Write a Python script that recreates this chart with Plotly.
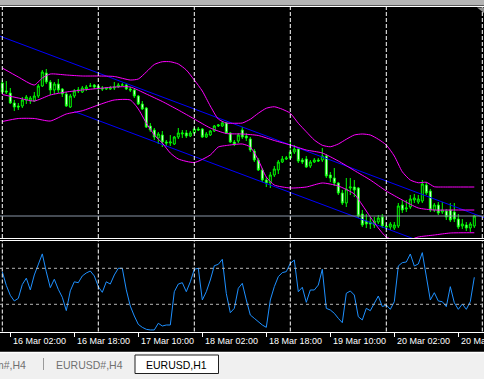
import plotly.graph_objects as go
import pandas as pd

W, H = 484, 379

# ---------------- data ----------------
times = pd.date_range("2020-03-16 00:00", periods=119, freq="h")
bars = list(range(len(times)))

open_ = [1.1228, 1.1196, 1.1188, 1.1148, 1.1136, 1.1136, 1.1160, 1.1156, 1.1156, 1.1176,
         1.1216, 1.1268, 1.1232, 1.1200, 1.1224, 1.1204, 1.1184, 1.1132, 1.1176, 1.1196,
         1.1192, 1.1204, 1.1216, 1.1220, 1.1216, 1.1208, 1.1204, 1.1204, 1.1208, 1.1212,
         1.1220, 1.1220, 1.1204, 1.1200, 1.1176, 1.1144, 1.1128, 1.1056, 1.1040, 1.1008,
         1.1020, 1.0992, 1.0988, 1.0984, 1.1012, 1.1024, 1.1028, 1.1016, 1.1028, 1.1044,
         1.1044, 1.1012, 1.1020, 1.1036, 1.1056, 1.1056, 1.1068, 1.1028, 1.0992, 1.0996,
         1.1040, 1.1016, 1.1004, 1.0956, 1.0920, 1.0880, 1.0840, 1.0828, 1.0860, 1.0880,
         1.0912, 1.0924, 1.0928, 1.0952, 1.0964, 1.0920, 1.0924, 1.0896, 1.0912, 1.0920,
         1.0920, 1.0936, 1.0860, 1.0848, 1.0828, 1.0788, 1.0748, 1.0808, 1.0812, 1.0808,
         1.0704, 1.0676, 1.0672, 1.0660, 1.0672, 1.0692, 1.0656, 1.0652, 1.0648, 1.0656,
         1.0740, 1.0724, 1.0732, 1.0760, 1.0752, 1.0756, 1.0820, 1.0796, 1.0720, 1.0740,
         1.0712, 1.0716, 1.0720, 1.0712, 1.0684, 1.0656, 1.0660, 1.0648, 1.0656]
high = [1.1240, 1.1236, 1.1208, 1.1160, 1.1148, 1.1172, 1.1180, 1.1176, 1.1192, 1.1224,
        1.1280, 1.1284, 1.1240, 1.1232, 1.1244, 1.1208, 1.1192, 1.1184, 1.1204, 1.1212,
        1.1216, 1.1220, 1.1228, 1.1224, 1.1220, 1.1216, 1.1212, 1.1216, 1.1232, 1.1228,
        1.1228, 1.1224, 1.1212, 1.1204, 1.1180, 1.1156, 1.1132, 1.1068, 1.1048, 1.1032,
        1.1036, 1.1000, 1.1020, 1.1016, 1.1048, 1.1040, 1.1040, 1.1036, 1.1052, 1.1052,
        1.1048, 1.1032, 1.1040, 1.1060, 1.1064, 1.1076, 1.1072, 1.1032, 1.1000, 1.1028,
        1.1052, 1.1028, 1.1012, 1.0964, 1.0928, 1.0888, 1.0852, 1.0872, 1.0896, 1.0920,
        1.0936, 1.0936, 1.1000, 1.0980, 1.0968, 1.0928, 1.0936, 1.0920, 1.0928, 1.0928,
        1.0968, 1.0944, 1.0872, 1.0888, 1.0832, 1.0800, 1.0848, 1.0848, 1.0840, 1.0812,
        1.0720, 1.0704, 1.0692, 1.0692, 1.0700, 1.0704, 1.0668, 1.0672, 1.0672, 1.0748,
        1.0760, 1.0760, 1.0780, 1.0784, 1.0780, 1.0840, 1.0832, 1.0804, 1.0748, 1.0752,
        1.0752, 1.0724, 1.0748, 1.0748, 1.0704, 1.0684, 1.0672, 1.0672, 1.0700]
low = [1.1184, 1.1184, 1.1144, 1.1116, 1.1120, 1.1128, 1.1144, 1.1144, 1.1152, 1.1168,
       1.1212, 1.1224, 1.1180, 1.1184, 1.1188, 1.1172, 1.1132, 1.1128, 1.1168, 1.1188,
       1.1188, 1.1196, 1.1212, 1.1204, 1.1200, 1.1196, 1.1200, 1.1200, 1.1200, 1.1208,
       1.1216, 1.1200, 1.1192, 1.1168, 1.1140, 1.1120, 1.1048, 1.1032, 1.1000, 1.0984,
       1.0972, 1.0976, 1.0976, 1.0980, 1.1004, 1.1008, 1.1008, 1.1012, 1.1024, 1.1036,
       1.1008, 1.1008, 1.1016, 1.1032, 1.1052, 1.1052, 1.1024, 1.0988, 1.0976, 1.0988,
       1.1004, 1.0996, 1.0952, 1.0912, 1.0876, 1.0832, 1.0812, 1.0808, 1.0852, 1.0864,
       1.0908, 1.0920, 1.0924, 1.0944, 1.0908, 1.0904, 1.0888, 1.0888, 1.0908, 1.0912,
       1.0912, 1.0848, 1.0832, 1.0816, 1.0780, 1.0740, 1.0732, 1.0780, 1.0772, 1.0688,
       1.0652, 1.0648, 1.0644, 1.0648, 1.0664, 1.0648, 1.0644, 1.0640, 1.0640, 1.0648,
       1.0708, 1.0712, 1.0724, 1.0748, 1.0744, 1.0748, 1.0780, 1.0712, 1.0712, 1.0700,
       1.0704, 1.0680, 1.0672, 1.0672, 1.0644, 1.0644, 1.0636, 1.0632, 1.0648]
close = [1.1192, 1.1192, 1.1148, 1.1132, 1.1132, 1.1160, 1.1172, 1.1168, 1.1176, 1.1216,
         1.1272, 1.1232, 1.1200, 1.1224, 1.1200, 1.1184, 1.1136, 1.1176, 1.1196, 1.1200,
         1.1208, 1.1212, 1.1216, 1.1212, 1.1208, 1.1204, 1.1208, 1.1208, 1.1212, 1.1220,
         1.1220, 1.1204, 1.1200, 1.1176, 1.1144, 1.1124, 1.1052, 1.1040, 1.1012, 1.1024,
         1.0992, 1.0988, 1.0992, 1.1012, 1.1028, 1.1028, 1.1016, 1.1028, 1.1044, 1.1040,
         1.1012, 1.1024, 1.1036, 1.1056, 1.1060, 1.1068, 1.1028, 1.0992, 1.0984, 1.1020,
         1.1012, 1.1008, 1.0960, 1.0920, 1.0880, 1.0840, 1.0828, 1.0860, 1.0884, 1.0912,
         1.0924, 1.0928, 1.0952, 1.0964, 1.0916, 1.0912, 1.0892, 1.0912, 1.0920, 1.0916,
         1.0936, 1.0856, 1.0848, 1.0828, 1.0788, 1.0748, 1.0804, 1.0812, 1.0800, 1.0696,
         1.0660, 1.0664, 1.0664, 1.0676, 1.0688, 1.0656, 1.0652, 1.0664, 1.0660, 1.0736,
         1.0720, 1.0728, 1.0764, 1.0768, 1.0764, 1.0824, 1.0788, 1.0720, 1.0740, 1.0708,
         1.0720, 1.0692, 1.0680, 1.0684, 1.0652, 1.0664, 1.0648, 1.0664, 1.0696]

# oscillator (0-100) in the lower window
osc = [66, 51, 40, 33.7, 36.6, 52, 59, 46, 62.6, 75.5,
       86, 66, 48.5, 57.8, 46.6, 37.8, 23, 45, 55, 54,
       61.5, 64.8, 67, 61.5, 49.6, 43.3, 55, 52.5, 62.6, 70,
       70, 46, 28, 17, 7.7, 4.4, 2.2, 1.5, 1.5, 8.9,
       5.9, 7, 7, 44, 52.5, 54, 44, 55, 68.9, 70,
       34.8, 44, 57, 72.9, 74.4, 80, 42, 20.7, 25.5, 47.8,
       53.3, 34.8, 18.1, 14.4, 10.7, 7, 4.4, 34.8, 49.6, 60.7,
       65.2, 66.3, 75.5, 79.2, 44, 48.9, 32.2, 45.9, 45.9, 51.4,
       68.9, 25.5, 23.7, 20, 14.4, 9.6, 42.2, 44.8, 40.3, 16.2,
       12.6, 25.5, 22.9, 31.1, 39.2, 27.4, 29.2, 24.4, 32.9, 72.6,
       76.3, 77, 85.9, 72.6, 74.8, 87.4, 62.6, 34.8, 42.9, 33.7,
       32.9, 27.4, 49.6, 31.8, 24.4, 30.3, 24.4, 32.9, 60]
osc_levels = [30, 70]

# Bollinger-type envelope (read at sampled bars)
upper_x = [0, 4, 8, 10, 12, 16, 20, 24, 28, 32, 34, 36, 38, 40, 42, 44, 46, 48, 50, 52,
           54, 56, 58, 60, 62, 64, 66, 68, 70, 72, 74, 76, 78, 80, 82, 84, 86, 88, 90, 92,
           94, 96, 98, 100, 102, 104, 106, 108, 110, 114, 118]
upper = [1.1288, 1.1252, 1.1220, 1.1248, 1.1264, 1.1260, 1.1256, 1.1256, 1.1254, 1.1240,
         1.1244, 1.1272, 1.1302, 1.1313, 1.1313, 1.1304, 1.1280, 1.1240, 1.1196, 1.1136,
         1.1084, 1.1068, 1.1067, 1.1068, 1.1083, 1.1107, 1.1127, 1.1133, 1.1123, 1.1107,
         1.1067, 1.1033, 1.1000, 1.0979, 1.0973, 1.0984, 1.1003, 1.1020, 1.1024, 1.1020,
         1.1003, 1.0980, 1.0936, 1.0873, 1.0840, 1.0829, 1.0831, 1.0813, 1.0812, 1.0812,
         1.0812]
middle_x = [0, 4, 8, 12, 16, 20, 24, 28, 32, 36, 40, 44, 48, 52, 56, 60, 64, 68, 72, 76,
            80, 84, 88, 92, 96, 100, 104, 108, 112, 118]
middle = [1.1182, 1.1168, 1.1156, 1.1180, 1.1192, 1.1200, 1.1206, 1.1212, 1.1212, 1.1184,
          1.1154, 1.1120, 1.1084, 1.1048, 1.1026, 1.1024, 1.1018, 1.0998, 1.0980, 1.0960,
          1.0948, 1.0916, 1.0878, 1.0840, 1.0796, 1.0760, 1.0728, 1.0720, 1.0720, 1.0720]
lower_x = [0, 4, 8, 12, 16, 20, 24, 28, 32, 34, 36, 38, 40, 42, 44, 48, 52, 54, 56, 60,
           62, 64, 66, 68, 72, 76, 80, 84, 88, 90, 92, 94, 96, 100, 104, 108, 112, 116, 118]
lower = [1.1074, 1.1086, 1.1086, 1.1076, 1.1104, 1.1117, 1.1140, 1.1160, 1.1160, 1.1124,
         1.1068, 1.1020, 1.0988, 1.0948, 1.0924, 1.0910, 1.0940, 1.0972, 1.0978, 1.0984,
         1.0972, 1.0920, 1.0852, 1.0820, 1.0808, 1.0812, 1.0828, 1.0816, 1.0784, 1.0740,
         1.0692, 1.0648, 1.0612, 1.0592, 1.0612, 1.0620, 1.0628, 1.0629, 1.0629]

# channel (two parallel trend lines, anchor bar / price)
chan_up_x = [-1, 121]
chan_up = [1.1418, 1.0686]
chan_lo_x = [18, 121]
chan_lo = [1.1114, 1.0496]

tick_labels = ["16 Mar 02:00", "16 Mar 18:00", "17 Mar 10:00", "18 Mar 02:00",
               "18 Mar 18:00", "19 Mar 10:00", "20 Mar 02:00", "20 Mar 18:00"]
tabs = ["m#,H4", "EURUSD#,H4", "EURUSD,H1"]

# ---------------- derived positions ----------------
label_of = {t.strftime("%d %b %H:%M"): i for i, t in enumerate(times)}
tick_bars = [label_of[s] for s in tick_labels]
grid_bars = [i for i in range(0, len(times) + 2)
             if (times[0] + pd.Timedelta(hours=i)).hour == 0]

def py(px):
    return 1 - px / H

def pxx(px):
    return px / W

x_range = [-0.575, 120.425]
price_range = [1.0608, 1.1534]
osc_range = [-0.22, 100.33]
main_dom = [py(238), py(6.5)]
osc_dom = [py(331.5), py(241)]

GREEN = "#00FF00"
fig = go.Figure()

fig.add_trace(go.Scatter(x=chan_up_x, y=chan_up, mode="lines",
                         line=dict(color="#0000FF", width=1), xaxis="x", yaxis="y",
                         hoverinfo="skip"))
fig.add_trace(go.Scatter(x=chan_lo_x, y=chan_lo, mode="lines",
                         line=dict(color="#0000FF", width=1), xaxis="x", yaxis="y",
                         hoverinfo="skip"))
for bx, by in ((upper_x, upper), (middle_x, middle), (lower_x, lower)):
    fig.add_trace(go.Scatter(x=bx, y=by, mode="lines",
                             line=dict(color="#FF00FF", width=1, shape="spline", smoothing=0.6),
                             xaxis="x", yaxis="y", hoverinfo="skip"))

fig.add_trace(go.Candlestick(
    x=bars, open=open_, high=high, low=low, close=close,
    increasing=dict(line=dict(color=GREEN, width=1), fillcolor="black"),
    decreasing=dict(line=dict(color=GREEN, width=1), fillcolor="white"),
    whiskerwidth=0, xaxis="x", yaxis="y"))

fig.add_trace(go.Scatter(x=bars, y=osc, mode="lines",
                         line=dict(color="#1E90FF", width=1), xaxis="x2", yaxis="y2"))

shapes = []
# top window strip
shapes.append(dict(type="rect", xref="paper", yref="paper", x0=0, x1=1, y0=py(5.5), y1=1,
                   fillcolor="#b4b4b4", line=dict(width=0), layer="below"))
# vertical dashed grid in both windows
for g in grid_bars:
    for dom in (main_dom, osc_dom):
        shapes.append(dict(type="line", xref="x", yref="paper", x0=g, x1=g,
                           y0=dom[0], y1=dom[1],
                           line=dict(color="white", width=1, dash="4px,2px")))
# oscillator levels
for lv in osc_levels:
    shapes.append(dict(type="line", xref="paper", yref="y2", x0=0, x1=1, y0=lv, y1=lv,
                       line=dict(color="#B4B4B4", width=1, dash="3px,3px")))
# bid line
shapes.append(dict(type="line", xref="paper", yref="y", x0=0, x1=1,
                   y0=close[-1], y1=close[-1], line=dict(color="#8995A6", width=1)))
# chart shift marker
shapes.append(dict(type="path", xref="paper", yref="paper",
                   path=f"M {pxx(477)} {py(7.5)} L {pxx(484)} {py(7.5)} L {pxx(484)} {py(13)} Z",
                   fillcolor="#909090", line=dict(width=0)))
# tab bar
shapes.append(dict(type="rect", xref="paper", yref="paper", x0=0, x1=1, y0=0, y1=py(352),
                   fillcolor="#F0F0F0", line=dict(width=0)))
shapes.append(dict(type="line", xref="paper", yref="paper", x0=0, x1=1, y0=py(352.5), y1=py(352.5),
                   line=dict(color="white", width=1.5)))
shapes.append(dict(type="rect", xref="paper", yref="paper", x0=pxx(135), x1=pxx(218.5),
                   y0=py(373.5), y1=py(355), fillcolor="white", line=dict(color="#202020", width=1)))
shapes.append(dict(type="line", xref="paper", yref="paper", x0=pxx(43.5), x1=pxx(43.5),
                   y0=py(370), y1=py(358), line=dict(color="#9a9a9a", width=1)))

annotations = []
for b, s in zip(tick_bars, tick_labels):
    annotations.append(dict(x=b, y=py(341), xref="x2", yref="paper", text=s,
                            showarrow=False, xanchor="left", yanchor="middle", xshift=1,
                            font=dict(family="Liberation Sans", size=9, color="white")))
annotations.append(dict(x=pxx(27.5), y=py(364.5), xref="paper", yref="paper", text=tabs[0],
                        showarrow=False, xanchor="right", yanchor="middle",
                        font=dict(family="Liberation Sans", size=10.5, color="#707070")))
annotations.append(dict(x=pxx(89), y=py(364.5), xref="paper", yref="paper", text=tabs[1],
                        showarrow=False, xanchor="center", yanchor="middle",
                        font=dict(family="Liberation Sans", size=10.5, color="#707070")))
annotations.append(dict(x=pxx(176.7), y=py(364.5), xref="paper", yref="paper", text=tabs[2],
                        showarrow=False, xanchor="center", yanchor="middle",
                        font=dict(family="Liberation Sans", size=10.5, color="black")))

axis_common = dict(showgrid=False, zeroline=False, showticklabels=False)
fig.update_layout(
    width=W, height=H, margin=dict(l=0, r=0, t=0, b=0),
    paper_bgcolor="black", plot_bgcolor="black", showlegend=False,
    xaxis=dict(domain=[0, 1], range=x_range, anchor="y", showline=True, mirror=True,
               linecolor="white", linewidth=1, rangeslider=dict(visible=False), **axis_common),
    yaxis=dict(domain=main_dom, range=price_range, anchor="x", **axis_common),
    xaxis2=dict(domain=[0, 1], range=x_range, anchor="y2", matches="x", showline=True,
                mirror=True, linecolor="white", linewidth=1, ticks="outside",
                tickvals=tick_bars, ticklen=4, tickcolor="white", tickwidth=1, **axis_common),
    yaxis2=dict(domain=osc_dom, range=osc_range, anchor="x2", **axis_common),
    shapes=shapes, annotations=annotations,
)

fig.write_html("out.html", config=dict(displayModeBar=False),
               post_script="document.body.style.margin='0px';")
